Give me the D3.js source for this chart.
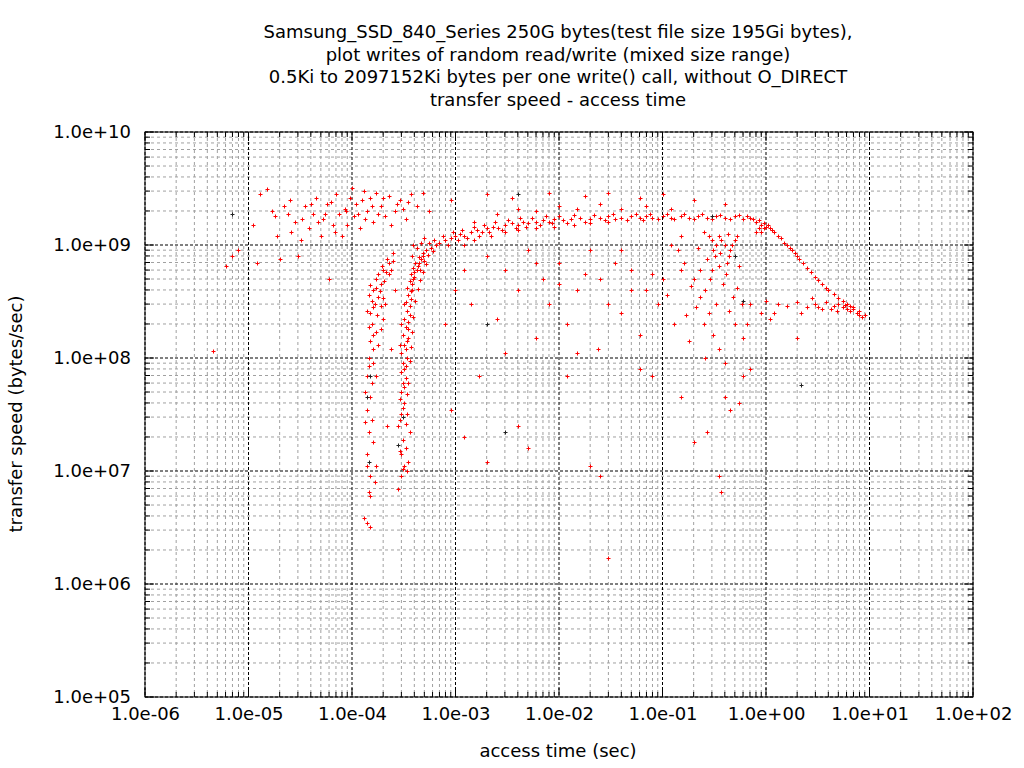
<!DOCTYPE html>
<html><head><meta charset="utf-8">
<script src="https://cdn.jsdelivr.net/npm/d3@7"></script>
<style>body{margin:0;background:#fff;font-family:"DejaVu Sans",sans-serif;}</style>
</head><body><svg id="c" width="1024" height="768"></svg>
<script>
const titleLines = [
 "Samsung_SSD_840_Series 250G bytes(test file size 195Gi bytes),",
 "plot writes of random read/write (mixed size range)",
 "0.5Ki to 2097152Ki bytes per one write() call, without O_DIRECT",
 "transfer speed - access time"];
const xTicks = [1e-6,1e-5,1e-4,1e-3,1e-2,1e-1,1e0,1e1,1e2];
const xTickLabels = ["1.0e-06","1.0e-05","1.0e-04","1.0e-03","1.0e-02","1.0e-01","1.0e+00","1.0e+01","1.0e+02"];
const yTicks = [1e5,1e6,1e7,1e8,1e9,1e10];
const yTickLabels = ["1.0e+05","1.0e+06","1.0e+07","1.0e+08","1.0e+09","1.0e+10"];
const xLabel = "access time (sec)";
const yLabel = "transfer speed (bytes/sec)";

// red write samples [time sec, speed bytes/sec]
const redPoints = [
 [4.5e-6,1.15e8],[6e-6,6.5e8],[7e-6,8e8],[8e-6,9e8],[1.1e-5,1.5e9],[1.2e-5,7e8],[1.3e-5,2.8e9],[1.5e-5,3.1e9],[1.7e-5,2.0e9],[1.9e-5,1.2e9],
 [2.0e-5,7.5e8],[2.2e-5,2.2e9],[2.5e-5,2.5e9],[2.8e-5,1.6e9],[3.0e-5,8e8],[3.2e-5,1.1e9],[3.5e-5,2.2e9],[3.8e-5,1.4e9],[4.2e-5,1.9e9],[4.5e-5,2.6e9],
 [5e-5,1.2e9],[5.3e-5,1.7e9],[5.7e-5,2.3e9],[6e-5,5e8],[6.5e-5,1.5e9],[7e-5,2.8e9],[7.5e-5,1.9e9],[8e-5,1.2e9],[8.5e-5,2.1e9],[9e-5,1.5e9],
 [9.5e-5,2.6e9],[1.0e-4,3.2e9],[1.05e-4,1.8e9],[1.1e-4,2.3e9],[1.2e-4,1.4e9],[1.3e-4,3.0e9],[1.4e-4,2.0e9],[1.5e-4,2.6e9],[1.6e-4,1.6e9],[1.7e-4,2.9e9],
 [1.9e-4,2.2e9],[2.1e-4,1.8e9],[2.3e-4,2.7e9],[2.6e-4,2.0e9],[2.9e-4,2.5e9],[3.3e-4,1.7e9],[3.7e-4,2.8e9],[4.2e-4,2.2e9],[4.8e-4,2.9e9],[5.5e-4,2.0e9],
 [1.8e-5,1.8e9],[2.4e-5,1.9e9],[2.6e-5,1.3e9],[3.3e-5,1.7e9],[4e-5,2.3e9],[4.7e-5,1.6e9],[5.5e-5,1.9e9],[6.2e-5,2.4e9],[6.8e-5,1.3e9],[8.8e-5,2.0e9],
 [1.15e-4,1.9e9],[1.25e-4,2.5e9],[1.35e-4,1.7e9],[1.55e-4,2.2e9],[1.8e-4,1.9e9],[2.0e-4,2.6e9],[2.4e-4,1.5e9],[2.7e-4,2.3e9],[3.1e-4,2.1e9],[3.5e-4,2.4e9],
 // left band
 [1.3e-4,3.8e6],[1.4e-4,3.5e6],[1.5e-4,3.2e6],[1.45e-4,6.5e6],[1.5e-4,9e6],[1.4e-4,1.4e7],[1.45e-4,2.2e7],[1.4e-4,3.5e7],[1.35e-4,5e7],[1.4e-4,7e7],
 [1.45e-4,1.0e8],[1.5e-4,1.4e8],[1.45e-4,1.9e8],[1.5e-4,2.5e8],[1.55e-4,3.2e8],[1.6e-4,4.0e8],[1.7e-4,5e8],[1.6e-4,2.8e8],[1.7e-4,1.7e8],[1.8e-4,3.5e8],
 [1.9e-4,4.5e8],[2.0e-4,6e8],[2.1e-4,3.0e8],[2.2e-4,7.5e8],[2.0e-4,2.2e8],[2.3e-4,5.5e8],[2.5e-4,8.5e8],[1.55e-4,6e7],[1.6e-4,1.2e8],[1.65e-4,8e6],
 [2.4e-4,1.2e8],[2.2e-4,2.5e7],[2.6e-4,4e8],
 [1.4e-4,2.6e8],[1.45e-4,3.6e8],[1.5e-4,4.4e8],[1.55e-4,2.0e8],[1.6e-4,1.6e8],[1.65e-4,3.0e8],[1.7e-4,4.2e8],[1.75e-4,2.4e8],[1.8e-4,5.5e8],[1.85e-4,3.9e8],
 [1.9e-4,2.9e8],[1.95e-4,6.5e8],[2.05e-4,4.8e8],[2.15e-4,5.8e8],[2.3e-4,7e8],[2.4e-4,6e8],[2.5e-4,7.2e8],[1.6e-4,9e7],[1.5e-4,4.5e7],[1.55e-4,2.8e7],
 [1.6e-4,1.8e7],[1.7e-4,1.1e7],[1.4e-4,1.1e7],[1.5e-4,6e6],[1.45e-4,8.5e7],[1.35e-4,2.7e7],[1.7e-4,7e7],[1.8e-4,1.3e8],[1.9e-4,1.8e8],[2.0e-4,3.4e8],
 // main vertical band ~3e-4
 [2.8e-4,7e6],[3.0e-4,9e6],[3.2e-4,1.1e7],[2.9e-4,1.5e7],[3.1e-4,1.9e7],[2.8e-4,2.5e7],[3.0e-4,3.2e7],[3.2e-4,4e7],[3.0e-4,5e7],[3.1e-4,6e7],
 [3.0e-4,7.5e7],[3.1e-4,9e7],[3.0e-4,1.1e8],[3.2e-4,1.3e8],[3.1e-4,1.6e8],[3.3e-4,1.9e8],[3.2e-4,2.2e8],[3.4e-4,2.6e8],[3.3e-4,3.1e8],[3.5e-4,3.6e8],
 [3.4e-4,4.2e8],[3.6e-4,4.8e8],[3.7e-4,5.5e8],[3.9e-4,6.2e8],[4.1e-4,7e8],[4.4e-4,7.8e8],[4.8e-4,8.5e8],[3.5e-4,1.2e7],[3.6e-4,2.2e7],[3.4e-4,1.0e7],
 [3.3e-4,8.5e7],[3.5e-4,1.5e8],[3.6e-4,2.4e8],[3.8e-4,4e8],[4.0e-4,5.2e8],[4.3e-4,6.5e8],[2.9e-4,4.3e7],[2.9e-4,1.3e8],[3.0e-4,2.0e8],[3.2e-4,3.0e8],
 [5.2e-4,9e8],[5.8e-4,9.5e8],[6.5e-4,1.0e9],[3.8e-4,8e8],[4.2e-4,9.5e8],[4.6e-4,1.05e9],[5e-4,1.15e9],[3.9e-4,1.0e9],[4.5e-4,6e8],[5e-4,7.2e8],
 [2.9e-4,2.8e7],[3.1e-4,3.6e7],[3.2e-4,5.5e7],[3.3e-4,6.6e7],[3.2e-4,8e7],[3.4e-4,1.0e8],[3.3e-4,1.2e8],[3.4e-4,1.4e8],[3.5e-4,1.8e8],[3.5e-4,2.1e8],
 [3.6e-4,2.9e8],[3.7e-4,3.3e8],[3.7e-4,3.9e8],[3.8e-4,4.5e8],[3.9e-4,5e8],[4.0e-4,5.8e8],[4.2e-4,6e8],[4.4e-4,7e8],[4.6e-4,7.5e8],[4.9e-4,8e8],
 [5.4e-4,8.2e8],[6e-4,8.8e8],[5.6e-4,1.05e9],[6.2e-4,1.1e9],[3.0e-4,1.4e7],[3.1e-4,1.05e7],[3.3e-4,1.6e7],[3.3e-4,2.6e7],[3.4e-4,3.2e7],[3.4e-4,4.8e7],
 [3.5e-4,6e7],[3.6e-4,9.5e7],[3.7e-4,1.25e8],[3.8e-4,1.7e8],[3.9e-4,2.3e8],[4.1e-4,3.2e8],[4.3e-4,4.1e8],[4.5e-4,4.9e8],[4.8e-4,5.8e8],[5.2e-4,6.8e8],
 // rising curve to plateau
 [7e-4,1.05e9],[8e-4,1.1e9],[9e-4,1.15e9],[1.0e-3,1.2e9],[1.1e-3,1.25e9],[1.2e-3,1.2e9],[1.4e-3,1.3e9],[1.6e-3,1.35e9],[1.8e-3,1.3e9],[2.0e-3,1.4e9],
 [2.3e-3,1.45e9],[2.6e-3,1.4e9],[3.0e-3,1.5e9],[3.5e-3,1.55e9],[4e-3,1.5e9],[4.5e-3,1.6e9],[5e-3,1.55e9],[6e-3,1.6e9],[7e-3,1.65e9],[8e-3,1.6e9],
 [9e-3,1.7e9],[1.1e-2,1.65e9],[1.3e-2,1.7e9],[1.6e-2,1.75e9],[2e-2,1.7e9],[2.5e-2,1.75e9],[3e-2,1.8e9],[3.5e-2,1.7e9],[4e-2,1.75e9],[5e-2,1.8e9],
 [6e-2,1.75e9],[7e-2,1.8e9],[8e-2,1.75e9],[1e-1,1.8e9],[1.2e-1,1.75e9],[1.5e-1,1.8e9],[1.8e-1,1.75e9],[2.2e-1,1.8e9],[2.7e-1,1.75e9],[3.3e-1,1.8e9],
 [4e-1,1.75e9],[5e-1,1.8e9],[6e-1,1.7e9],[7e-1,1.75e9],[8e-1,1.6e9],[9e-1,1.5e9],[1.0e0,1.45e9],[1.1e0,1.4e9],[1.3e0,1.2e9],[1.5e0,1.05e9],
 [1.8e0,9e8],[2.1e0,7.5e8],[2.5e0,6.2e8],[3e0,5.2e8],[3.5e0,4.5e8],[4e0,4e8],[5e0,3.4e8],[6e0,3e8],[7e0,2.7e8],[8e0,2.4e8],
 [1.2e-3,1.0e9],[1.5e-3,1.1e9],[2.2e-3,1.2e9],[3e-3,1.3e9],[4e-3,1.35e9],[6e-3,1.4e9],[9e-3,1.45e9],[1.4e-2,1.5e9],[2e-2,1.55e9],[3e-2,1.6e9],
 [1.5e-3,1.6e9],[2.5e-3,1.9e9],[4e-3,2.1e9],[6e-3,2.0e9],[1e-2,2.2e9],[1.5e-2,2.1e9],[2.5e-2,2.3e9],[4e-2,2.1e9],[7e-2,2.2e9],[1.2e-1,2.1e9],
 [9e-4,2.5e9],[2e-3,2.8e9],[3.5e-3,2.6e9],[8e-3,2.9e9],[1.8e-2,2.7e9],[3e-2,2.9e9],[6e-2,2.6e9],[1e-1,2.8e9],[2e-1,2.5e9],[4e-1,2.3e9],
 [7.5e-4,1.2e9],[8.5e-4,1.0e9],[9.5e-4,1.3e9],[1.05e-3,1.1e9],[1.15e-3,1.35e9],[1.3e-3,1.15e9],[1.5e-3,1.45e9],[1.7e-3,1.2e9],[1.9e-3,1.5e9],[2.1e-3,1.3e9],
 [2.4e-3,1.6e9],[2.8e-3,1.35e9],[3.2e-3,1.65e9],[3.8e-3,1.4e9],[4.2e-3,1.75e9],[4.8e-3,1.45e9],[5.5e-3,1.75e9],[6.5e-3,1.5e9],[7.5e-3,1.8e9],[8.5e-3,1.55e9],
 [1e-2,1.8e9],[1.2e-2,1.55e9],[1.4e-2,1.85e9],[1.8e-2,1.6e9],[2.2e-2,1.85e9],[2.8e-2,1.65e9],[3.3e-2,1.9e9],[4.5e-2,1.65e9],[5.5e-2,1.9e9],[6.5e-2,1.65e9],
 [7.5e-2,1.9e9],[9e-2,1.7e9],[1.1e-1,1.9e9],[1.3e-1,1.7e9],[1.6e-1,1.9e9],[2e-1,1.7e9],[2.4e-1,1.9e9],[3e-1,1.7e9],[3.6e-1,1.85e9],[4.5e-1,1.7e9],
 [5.5e-1,1.85e9],[6.5e-1,1.8e9],[7.5e-1,1.7e9],[8.5e-1,1.65e9],[9.5e-1,1.55e9],[1.05e0,1.5e9],[1.15e0,1.35e9],[1.2e0,1.3e9],[1.4e0,1.15e9],[1.6e0,1.0e9],
 [1.7e0,9.5e8],[1.9e0,8.5e8],[2.0e0,8e8],[2.3e0,7e8],[2.7e0,5.8e8],[3.2e0,4.9e8],[3.8e0,4.2e8],[4.5e0,3.7e8],[5.5e0,3.2e8],[6.5e0,2.9e8],
 // lower right branch ~3e8 and cluster
 [1.0e0,3.2e8],[1.3e0,3.0e8],[1.6e0,2.9e8],[2e0,3.1e8],[2.5e0,2.8e8],[3e0,3.0e8],[3.5e0,2.7e8],[4.5e0,2.9e8],[5.5e0,2.8e8],[6.5e0,2.6e8],
 [7.5e0,2.5e8],[8.5e0,2.3e8],[1.2e0,2.5e8],[2.2e0,2.5e8],[2.8e0,3.4e8],[1.1e0,2.2e8],
 [3.2e0,2.8e8],[3.8e0,3.1e8],[4.2e0,2.7e8],[5e0,3.0e8],[6e0,2.7e8],[7e0,2.8e8],[8e0,2.6e8],[9e0,2.4e8],[4.8e0,2.6e8],[5.8e0,2.95e8],
 [2.5e-1,1.3e9],[3e-1,1.1e9],[3.5e-1,1.2e9],[4e-1,1.0e9],[4.5e-1,9e8],[5e-1,1.1e9],[3.2e-1,8e8],[4.2e-1,7e8],[2.2e-1,9.5e8],[5.5e-1,6.5e8],
 [3e-1,6e8],[2e-1,5e8],[3.8e-1,4.5e8],[2.6e-1,4e8],[4.8e-1,3.5e8],[3.3e-1,3e8],[1.6e-1,7e8],[1.2e-1,1.0e9],[1.5e-1,1.2e9],[2.8e-1,2.5e8],
 [2.8e-1,1.2e9],[3.3e-1,1.0e9],[3.7e-1,1.1e9],[4.3e-1,1.25e9],[4.7e-1,1.0e9],[5.3e-1,1.2e9],[3.1e-1,9e8],[3.6e-1,8.5e8],[4.4e-1,8e8],[2.7e-1,7.5e8],
 [8.5e-1,1.4e9],[9e-1,1.3e9],[9.5e-1,1.4e9],[8e-1,1.3e9],[2.3e-1,6e8],[2.9e-1,5e8],[3.5e-1,6.5e8],[4.1e-1,5.5e8],
 // scattered middle
 [2e-3,8e8],[3e-3,6e8],[5e-3,9e8],[7e-3,5e8],[1e-2,7e8],[1.5e-2,4e8],[2e-2,9e8],[3e-2,3e8],[5e-2,6e8],[7e-2,4e8],
 [1e-1,5e8],[1.4e-3,3e8],[2.5e-3,2.2e8],[4e-3,4e8],[6e-3,1.5e8],[8e-3,3e8],[1.2e-2,2e8],[1.8e-2,5.5e8],[2.4e-2,1.2e8],[4e-2,2.5e8],
 [6e-2,1.6e8],[9e-2,3e8],[1.3e-1,2e8],[1.8e-1,1.4e8],[2.3e-1,3.5e8],[3.5e-1,1.2e8],[4e-1,9e7],[5e-1,2e8],[6e-1,1.5e8],[7e-1,3e8],
 [1.7e-3,7e7],[3e-3,1.1e8],[5e-3,1.6e7],[2e-3,1.2e7],[4e-3,2.5e7],[1.2e-2,7e7],[6e-2,8e7],[8e-2,7e7],[1.5e-1,4.5e7],[2e-1,1.8e7],
 [2.7e-1,2.2e7],[3.5e-1,9e6],[4e-1,4.5e7],[3.7e-1,6.5e6],[4.5e-1,3.5e7],[5.5e-1,4e7],[1e-3,4e8],[1.2e-3,6e8],[8e-4,2e8],[9e-4,3.5e7],
 [2e-2,1.1e7],[3e-2,1.7e6],[2.5e-2,9e6],[1.2e-3,2e7],[1.5e-2,1.1e8],[2e0,1.5e8],[6e-1,7e7],[7e-1,8e7],[9e-1,2.5e8],
 [1.5e-1,6e8],[1.9e-1,4.3e8],[2.1e-1,2.8e8],[2.5e-1,2e8],[3.1e-1,1.6e8],[4.4e-1,2.6e8],[5.2e-1,4.2e8],[5.8e-1,3e8],[6.6e-1,2e8],[8e-2,5.5e8],
 [5e-2,4e8],[3.5e-2,7e8],[2.5e-2,5e8],[1e-2,4.5e8],[6e-3,7e8],[4e-2,9e8],[1.1e-1,3.6e8],[1.4e-1,9e8],[1.7e-1,2.4e8],[2.6e-1,1e8]
];
// dark grey samples
const darkPoints = [
 [7e-6,1.9e9],[1.5e-4,7e7],[1.45e-4,1.2e7],[3.1e-4,3e7],[1.4e-4,4.5e7],[2.8e-4,1.7e7],[3e-3,2.2e7],[2e-3,2e8],[2.2e0,5.8e7],[6e-1,3.2e8],
 [5e-1,8e8],[4e-3,2.8e9],[3e-1,1.8e9]
];

const svg = d3.select("#c");
const m = {l:145, r:973, t:132, b:697};
const x = d3.scaleLog().domain([1e-6,1e2]).range([m.l,m.r]);
const y = d3.scaleLog().domain([1e5,1e10]).range([m.b,m.t]);
const font = "DejaVu Sans, sans-serif";
const fs = 18;

svg.append("rect").attr("width",1024).attr("height",768).attr("fill","#fff");

const minorX = [], minorY = [];
for (let e=-6;e<2;e++) for (let k=2;k<10;k++) minorX.push(k*Math.pow(10,e));
for (let e=5;e<10;e++) for (let k=2;k<10;k++) minorY.push(k*Math.pow(10,e));
const g = svg.append("g");
g.selectAll(".mx").data(minorX).join("line").attr("x1",d=>x(d)).attr("x2",d=>x(d)).attr("y1",m.t).attr("y2",m.b)
 .attr("stroke","#a0a0a0").attr("stroke-width",1).attr("stroke-dasharray","3,3");
g.selectAll(".my").data(minorY).join("line").attr("y1",d=>y(d)).attr("y2",d=>y(d)).attr("x1",m.l).attr("x2",m.r)
 .attr("stroke","#a0a0a0").attr("stroke-width",1).attr("stroke-dasharray","3,3");
g.selectAll(".Mx").data(xTicks).join("line").attr("x1",d=>x(d)).attr("x2",d=>x(d)).attr("y1",m.t).attr("y2",m.b)
 .attr("stroke","#000").attr("stroke-width",1).attr("stroke-dasharray","3,2");
g.selectAll(".My").data(yTicks).join("line").attr("y1",d=>y(d)).attr("y2",d=>y(d)).attr("x1",m.l).attr("x2",m.r)
 .attr("stroke","#000").attr("stroke-width",1).attr("stroke-dasharray","3,2");

const ax = (gen, tr) => svg.append("g").attr("transform",tr).call(gen)
  .call(s=>{s.select(".domain").remove(); s.selectAll("text").attr("font-family",font).attr("font-size",fs).attr("fill","#000");});
ax(d3.axisBottom(x).tickValues(xTicks).tickFormat((d,i)=>xTickLabels[i]).tickSize(0).tickPadding(10),`translate(0,${m.b})`);
ax(d3.axisLeft(y).tickValues(yTicks).tickFormat((d,i)=>yTickLabels[i]).tickSize(0).tickPadding(14),`translate(${m.l},0)`);
const tk = svg.append("g").attr("stroke","#000").attr("stroke-width",1);
xTicks.forEach(v=>{tk.append("line").attr("x1",x(v)).attr("x2",x(v)).attr("y1",m.b).attr("y2",m.b-9);
 tk.append("line").attr("x1",x(v)).attr("x2",x(v)).attr("y1",m.t).attr("y2",m.t+9);});
minorX.forEach(v=>{tk.append("line").attr("x1",x(v)).attr("x2",x(v)).attr("y1",m.b).attr("y2",m.b-5);
 tk.append("line").attr("x1",x(v)).attr("x2",x(v)).attr("y1",m.t).attr("y2",m.t+5);});
yTicks.forEach(v=>{tk.append("line").attr("y1",y(v)).attr("y2",y(v)).attr("x1",m.l).attr("x2",m.l+9);
 tk.append("line").attr("y1",y(v)).attr("y2",y(v)).attr("x1",m.r).attr("x2",m.r-9);});
minorY.forEach(v=>{tk.append("line").attr("y1",y(v)).attr("y2",y(v)).attr("x1",m.l).attr("x2",m.l+5);
 tk.append("line").attr("y1",y(v)).attr("y2",y(v)).attr("x1",m.r).attr("x2",m.r-5);});
svg.append("rect").attr("x",m.l).attr("y",m.t).attr("width",m.r-m.l).attr("height",m.b-m.t)
 .attr("fill","none").attr("stroke","#000").attr("stroke-width",1);

const plus = d=>{const px=Math.round(x(d[0]))+0.5, py=Math.round(y(d[1]))+0.5;
  return `M${px-2},${py}H${px+2}M${px},${py-2}V${py+2}`;};
svg.append("g").selectAll("path").data(redPoints).join("path")
 .attr("d",plus).attr("stroke","#ff0000").attr("stroke-width",1).attr("fill","none");
svg.append("g").selectAll("path").data(darkPoints).join("path")
 .attr("d",plus).attr("stroke","#222").attr("stroke-width",1).attr("fill","none");

svg.append("g").selectAll("text").data(titleLines).join("text")
 .attr("x",558).attr("y",(d,i)=>38+i*22.5).attr("text-anchor","middle")
 .attr("font-family",font).attr("font-size",fs).text(d=>d);
svg.append("text").attr("x",558).attr("y",757).attr("text-anchor","middle").attr("font-family",font).attr("font-size",fs).text(xLabel);
svg.append("text").attr("transform","translate(22,414) rotate(-90)").attr("text-anchor","middle").attr("font-family",font).attr("font-size",fs).text(yLabel);
</script></body></html>
